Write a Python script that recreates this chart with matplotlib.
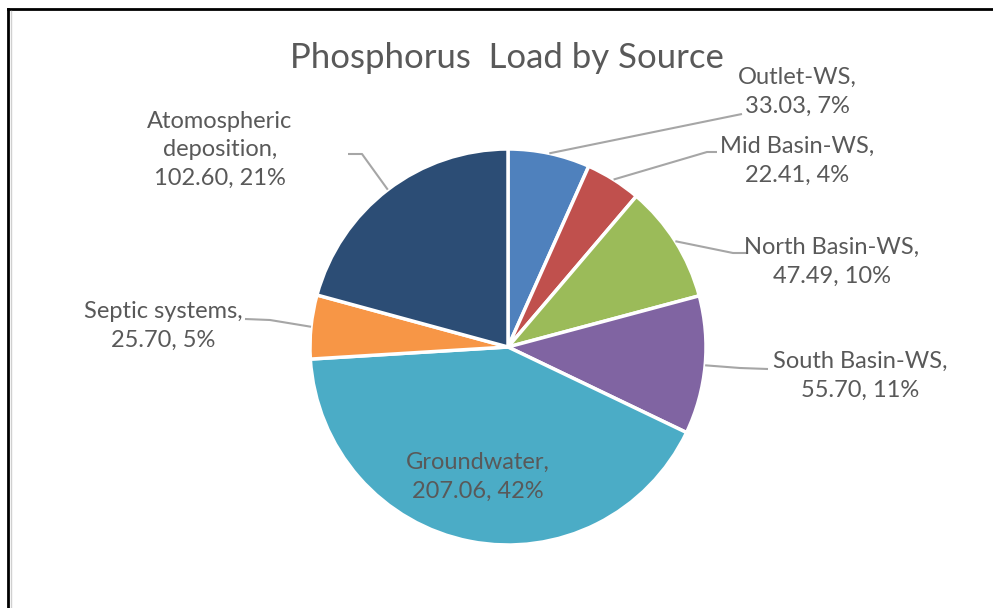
import numpy as np
import matplotlib.pyplot as plt
from matplotlib.lines import Line2D

sources = ['Outlet-WS', 'Mid Basin-WS', 'North Basin-WS', 'South Basin-WS',
           'Groundwater', 'Septic systems', 'Atomospheric\ndeposition']
loads = [33.03, 22.41, 47.49, 55.70, 207.06, 25.70, 102.60]
percents = ['7%', '4%', '10%', '11%', '42%', '5%', '21%']
colors = ['#4F81BD', '#C0504D', '#9BBB59', '#8064A2', '#4BACC6', '#F79646', '#2C4D75']

W, H = 993, 608
plt.rcParams['font.family'] = ['Lato', 'DejaVu Sans']

fig = plt.figure(figsize=(W / 100, H / 100), dpi=100)
ax = fig.add_axes([0, 0, 1, 1])

cx, cy, r = 508, H - 347, 198
wedges, _ = ax.pie(loads, colors=colors, startangle=90, counterclock=False,
                   center=(cx, cy), radius=r, frame=True,
                   wedgeprops=dict(edgecolor='white', linewidth=2.5))
ax.set_xlim(0, W)
ax.set_ylim(0, H)
ax.set_aspect('equal')
ax.axis('off')

txt = '#595959'
line_c = '#A6A6A6'

# label layout: (text x, text y, bend point, end point) in pixel coords from top
layout = [
    (797, 92, (737, 115), (742, 114)),
    (797, 161, (707, 152), (717, 152)),
    (832, 262, (733, 253), (747, 253)),
    (860, 376, (740, 368), (768, 369)),
    (478, 477, None, None),
    (163, 326, (270, 320), (245, 319)),
    (220, 150, (362, 154), (348, 154)),
]

for w, name, val, pct, (tx, ty, bend, end) in zip(wedges, sources, loads, percents, layout):
    ax.text(tx, H - ty, f'{name},\n{val:.2f}, {pct}', ha='center', va='center',
            fontsize=17, color=txt, linespacing=1.45)
    if bend is None:
        continue
    mid = np.deg2rad((w.theta1 + w.theta2) / 2)
    sx, sy = cx + r * np.cos(mid), cy + r * np.sin(mid)
    ax.plot([sx, bend[0], end[0]], [sy, H - bend[1], H - end[1]],
            color=line_c, lw=1.5, solid_capstyle='butt')

ax.text(507, H - 58, 'Phosphorus  Load by Source', ha='center', va='center',
        fontsize=25, color=txt)

# chart border (left and top edges visible)
fig.add_artist(Line2D([8 / W, 8 / W], [0, 1 - 9 / H], color='black', lw=2))
fig.add_artist(Line2D([8 / W, 1], [1 - 9 / H, 1 - 9 / H], color='black', lw=2))
fig.add_artist(Line2D([11 / W, 11 / W], [0, 1 - 11 / H], color='#D0D0D0', lw=1))

fig.savefig('out.png', dpi=100, facecolor='white')
